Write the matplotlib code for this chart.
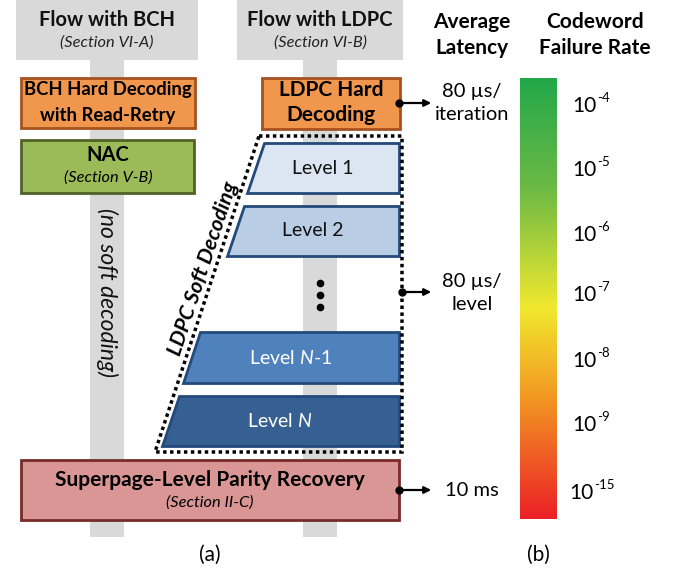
import numpy as np
import matplotlib
matplotlib.use("Agg")
import matplotlib.pyplot as plt
from matplotlib.patches import Rectangle, Polygon, FancyArrowPatch
from matplotlib.colors import LinearSegmentedColormap

plt.rcParams['font.family'] = ['Lato', 'DejaVu Sans']
plt.rcParams['mathtext.fontset'] = 'custom'
plt.rcParams['mathtext.rm'] = 'Lato'
plt.rcParams['mathtext.it'] = 'Lato:italic'

# labels / values
flow_titles = ["Flow with BCH", "Flow with LDPC"]
flow_sections = ["(Section VI-A)", "(Section VI-B)"]
level_names = ["Level 1", "Level 2", "Level $N$-1", "Level $N$"]
level_fills = ["#DCE6F2", "#B9CDE5", "#4F81BD", "#376092"]
level_text_colors = ["#111111", "#111111", "white", "white"]
latency_labels = [["80 µs/", "iteration"], ["80 µs/", "level"], ["10 ms"]]
failure_exponents = ["-4", "-5", "-6", "-7", "-8", "-9", "-15"]

fig = plt.figure(figsize=(6.75, 5.71), dpi=100)
ax = fig.add_axes([0, 0, 1, 1])
ax.set_xlim(0, 675)
ax.set_ylim(571, 0)
ax.axis('off')

gray = "#D9D9D9"
# flow columns
for cx, (x0, x1) in zip([107, 320], [(16, 198), (237, 403)]):
    ax.add_patch(Rectangle((x0, 0), x1 - x0, 60, color=gray, lw=0, zorder=0))
    ax.add_patch(Rectangle((cx - 17, 60), 34, 477, color=gray, lw=0, zorder=0))
for cx, t, s in zip([107, 320], flow_titles, flow_sections):
    ax.text(cx, 20, t, ha='center', va='center', fontsize=14.5, fontweight='bold', color='#111111')
    ax.text(cx, 43, s, ha='center', va='center', fontsize=11.8, style='italic', color='#222222')

def box(x0, y0, x1, y1, fc, ec):
    ax.add_patch(Rectangle((x0, y0), x1 - x0, y1 - y0, fc=fc, ec=ec, lw=2, zorder=3))

box(21, 78, 195, 128, "#F0964D", "#A5521F")
ax.text(108, 90, "BCH Hard Decoding", ha='center', va='center', fontsize=13.3, fontweight='bold', zorder=4)
ax.text(108, 115, "with Read-Retry", ha='center', va='center', fontsize=13.3, fontweight='bold', zorder=4)

box(21, 140, 194, 193, "#9BBB59", "#4F6228")
ax.text(108, 155, "NAC", ha='center', va='center', fontsize=14.5, fontweight='bold', zorder=4)
ax.text(108, 178, "(Section V-B)", ha='center', va='center', fontsize=11.8, style='italic', zorder=4)

box(262, 78, 400, 129, "#F0964D", "#A5521F")
ax.text(331, 90, "LDPC Hard", ha='center', va='center', fontsize=15, fontweight='bold', zorder=4)
ax.text(331, 115, "Decoding", ha='center', va='center', fontsize=15, fontweight='bold', zorder=4)

box(21, 460, 399, 520, "#D99694", "#772C2A")
ax.text(210, 480, "Superpage-Level Parity Recovery", ha='center', va='center', fontsize=15, fontweight='bold', zorder=4)
ax.text(210, 503, "(Section II-C)", ha='center', va='center', fontsize=11.8, style='italic', zorder=4)

ax.text(107, 293, "(no soft decoding)", ha='center', va='center', fontsize=16.5, style='italic',
        rotation=-90, color='#111111')

# soft decoding levels (trapezoids)
slope = -0.332
level_rows = [(143, 193), (206, 256), (332, 383), (396, 446)]
bl_x = [247, 227, 183, 162]
for (y0, y1), bx, name, fc, tc in zip(level_rows, bl_x, level_names, level_fills, level_text_colors):
    tx = bx + slope * (y0 - y1)
    ax.add_patch(Polygon([(tx, y0), (399, y0), (399, y1), (bx, y1)], closed=True,
                         fc=fc, ec="#234A7A", lw=2, zorder=3))
    ax.text((bx + tx) / 4 + 399 / 2 - 4.5, (y0 + y1) / 2, name, ha='center', va='center',
            fontsize=14, color=tc, zorder=4)

for yd in [283, 295, 307]:
    ax.plot(320, yd, 'o', ms=4.5, color='black', zorder=4)

ax.add_patch(Polygon([(259, 136), (402, 136), (402, 452), (155, 452)], closed=True,
                     fill=False, ec='black', lw=2.5, ls=(0, (1, 1)), zorder=5))
ax.text(203, 269, "LDPC Soft Decoding", ha='center', va='center', fontsize=15.3,
        fontweight='bold', style='italic', rotation=71.6, zorder=5)

# latency arrows
arrow_y = [103, 292, 490]
arrow_x0 = [399, 402, 399]
for x0, y, lines in zip(arrow_x0, arrow_y, latency_labels):
    ax.plot(x0, y, 'o', ms=5, color='black', zorder=6)
    ax.add_patch(FancyArrowPatch((x0, y), (434, y), arrowstyle='-|>', mutation_scale=10,
                                 lw=1.6, color='black', zorder=6))
    offs = [0] if len(lines) == 1 else [-11, 12]
    for off, line in zip(offs, lines):
        ax.text(472, y + off, line, ha='center', va='center', fontsize=14.5)

ax.text(472, 22, "Average", ha='center', va='center', fontsize=15, fontweight='bold')
ax.text(472, 48, "Latency", ha='center', va='center', fontsize=15, fontweight='bold')
ax.text(595, 22, "Codeword", ha='center', va='center', fontsize=15, fontweight='bold')
ax.text(595, 48, "Failure Rate", ha='center', va='center', fontsize=15, fontweight='bold')

# failure rate colour bar
cmap = LinearSegmentedColormap.from_list(
    "fr", [(0, "#22A84A"), (0.25, "#6DBA45"), (0.52, "#F0E92E"), (0.72, "#F39A22"), (1, "#EC2027")])
grad = np.linspace(0, 1, 256).reshape(-1, 1)
ax.imshow(grad, cmap=cmap, aspect='auto', extent=[520, 557, 519, 78], zorder=2)
ax.set_xlim(0, 675)
ax.set_ylim(571, 0)

tick_y = [103, 167, 232, 292, 358, 422, 490]
for y, e in zip(tick_y, failure_exponents):
    xm = 597 if len(e) == 2 else 594
    ax.text(xm, y + 3, "10", ha='right', va='center', fontsize=15)
    ax.text(xm, y - 5, e, ha='left', va='center', fontsize=9.5)

ax.text(210, 555, "(a)", ha='center', va='center', fontsize=15)
ax.text(538, 555, "(b)", ha='center', va='center', fontsize=15)

fig.savefig("out.png", dpi=100)
